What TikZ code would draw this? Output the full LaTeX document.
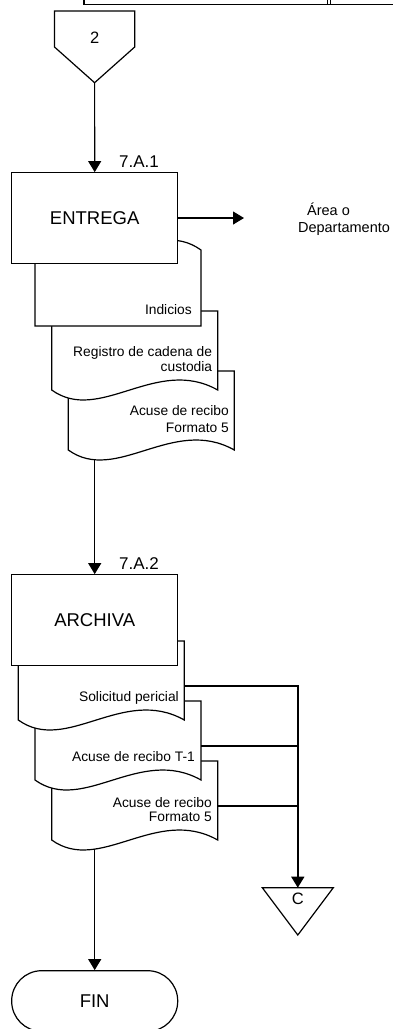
\documentclass[tikz,border=0pt]{standalone}
\usepackage{fontspec}
\setmainfont{Liberation Sans}
\usetikzlibrary{arrows.meta,backgrounds}

% document symbol: wavy bottom edge; #1 name, #2/#3 top left corner
\newcommand\flowdoc[3]{%
  \node[docbox] (#1) at (#2,#3) {};
  \path[docline] (#1.north west) -- (#1.north east) -- (#1.south east)
    .. controls ([xshift=-61.4pt,yshift=34.6pt]#1.south east)
       and ([xshift=48.1pt,yshift=-34.6pt]#1.south west) .. (#1.south west) -- cycle;}

\begin{document}
\begin{tikzpicture}[x=1pt,y=-1pt,
  wire/.style={line width=1.2pt},
  flow/.style={line width=1.2pt,-{Triangle[length=11pt,width=13pt]}},
  bus/.style={line width=1.5pt,line join=miter},
  procbox/.style={draw,line width=1.2pt,fill=white,minimum width=166pt,
    minimum height=90.6pt,inner sep=0pt,font=\fontsize{18.5}{22}\selectfont},
  docbox/.style={minimum width=166pt,minimum height=79pt,inner sep=0pt,
    outer sep=0pt,anchor=north west},
  docline/.style={draw,line width=1.2pt,fill=white},
  doctext/.style={inner sep=0pt,anchor=east,align=right,
    font=\fontsize{13.8}{15.5}\selectfont},
  steplabel/.style={inner sep=0pt,font=\fontsize{17}{20}\selectfont},
  marktext/.style={inner sep=0pt,font=\fontsize{16.5}{20}\selectfont},
]
\useasboundingbox (0,0) rectangle (392,1029);

% frame of the page header
\draw[line width=1.8pt] (84,-3) -- (84,4.5) -- (400,4.5);
\draw[line width=1.2pt] (327.3,-3) -- (327.3,4.5);
\draw[line width=1.2pt] (330.6,-3) -- (330.6,4.5);

% off-page connector 2
\path[docline] (54.5,11) -- (134.7,11) -- (134.7,47) -- (94.6,82.7)
  -- (54.5,47) -- cycle;
\node[marktext] (p2) at (94.6,37.5) {2};
\coordinate (p2tip) at (94.6,82.7);

% step 7.A.1 with its documents
\flowdoc{d3}{68.3}{371}
\flowdoc{d2}{51.7}{311}
\node[docbox,minimum height=76pt] (d1) at (35,250) {};
\path[docline] (d1.north west) -- (d1.south west) -- (d1.south east) -- (d1.north east)
  .. controls ([xshift=-48.1pt,yshift=34.6pt]d1.north east)
     and ([xshift=61.4pt,yshift=-34.6pt]d1.north west) .. (d1.north west) -- cycle;
\node[procbox] (entrega) at (94.7,218) {ENTREGA};
\node[steplabel] (s1) at (139,162) {7.A.1};

\node[doctext] (t1) at (192,309.3) {Indicios};
\node[doctext,font=\fontsize{13.8}{15}\selectfont] (t2) at (212.3,359.5)
  {Registro de cadena de\\custodia};
\node[doctext,font=\fontsize{13.8}{16.6}\selectfont] (t3) at (229,419)
  {Acuse de recibo\\Formato 5};

\coordinate (areaTip) at (244,218);
\node[inner sep=0pt,align=center,font=\fontsize{14.5}{16.7}\selectfont] (area)
  at (344,219.3) {\hspace*{-31pt}Área o\\Departamento};

% step 7.A.2 with its documents
\flowdoc{dC}{51.7}{761}
\flowdoc{dB}{35}{701}
\flowdoc{dA}{18.3}{641}
\node[procbox] (archiva) at (94.7,620) {ARCHIVA};
\node[steplabel] (s2) at (139,564) {7.A.2};

\node[doctext] (tA) at (179,698.2) {Solicitud pericial};
\node[doctext] (tB) at (195,756.7) {Acuse de recibo T-1};
\node[doctext,font=\fontsize{13.8}{14.4}\selectfont] (tC) at (212,809.5)
  {Acuse de recibo\\Formato 5};

% connector C
\path[docline] (262.3,887.7) -- (333.3,887.7) -- (297.8,935) -- cycle;
\node[marktext] (cmark) at (297.8,899) {C};
\coordinate (cTop) at (297.8,887.7);
\coordinate (cBus) at (297.8,870);

% end terminal
\node[procbox,rounded corners=30pt,minimum height=60.6pt] (fin) at (94.7,1001) {FIN};

% flow lines
\begin{pgfonlayer}{background}
  \draw[flow] (p2tip) -- (entrega.north);
  \draw[flow] (entrega.east) -- (areaTip);
  \draw[flow] (archiva.north |- d3.south) -- (archiva.north);
  \draw[flow] (fin.north |- dC.south) -- (fin.north);
\end{pgfonlayer}
\draw[bus] ([yshift=-5.7pt]dA.east) -| (cBus);
\draw[bus] ([yshift=-5.7pt]dB.east) -| (cBus);
\draw[bus] ([yshift=-5.7pt]dC.east) -| (cBus);
\draw[bus,-{Triangle[length=11pt,width=13pt]}] (cBus) -- (cTop);
\end{tikzpicture}
\end{document}
